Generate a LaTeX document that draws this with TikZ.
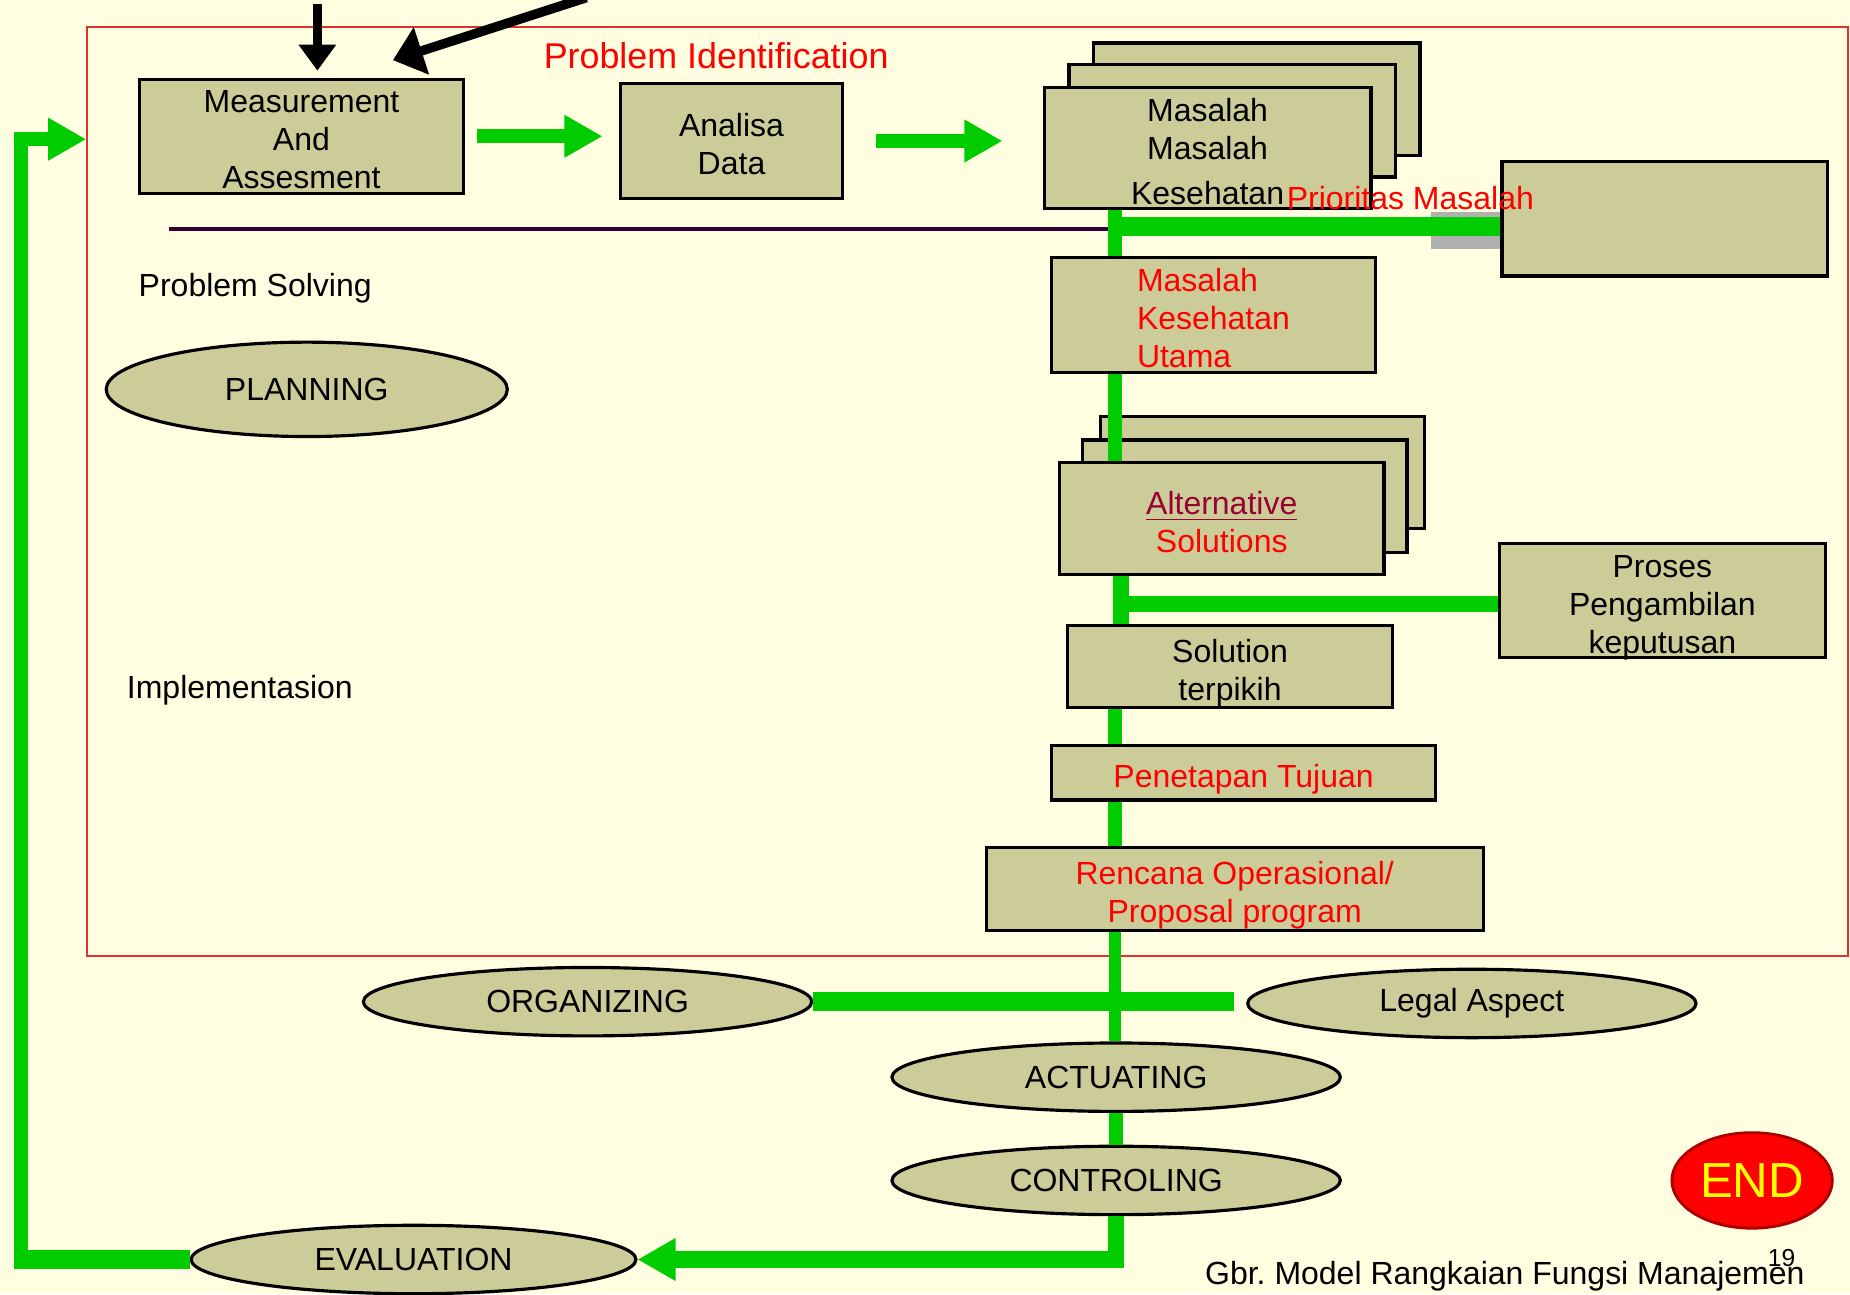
\documentclass[tikz,border=0pt]{standalone}
\usepackage{fontspec}
\setmainfont{Liberation Sans}
\usetikzlibrary{arrows.meta,positioning,shapes.geometric,calc}
\definecolor{bgCream}   {RGB}{255,254,224}
\definecolor{boxKhaki}  {RGB}{204,204,153}
\definecolor{flowGreen} {RGB}{  0,204,  0}
\definecolor{frameRed}  {RGB}{224, 48, 48}
\definecolor{noteRed}   {RGB}{255,  0,  0}
\definecolor{altMaroon} {RGB}{153,  0, 51}
\definecolor{lineInk}   {RGB}{ 51,  0, 51}
\definecolor{shadeGrey} {RGB}{176,176,176}
\definecolor{endEdge}   {RGB}{170,  0,  0}
\definecolor{endYellow} {RGB}{255,255,  0}
\newcommand\pu{0.0118cm}
% box text sits a little low in its box
\newcommand\boxlines[2][c]{\raisebox{-0.07cm}[\height][\depth]{%
  \begin{tabular}{@{}#1@{}}#2\end{tabular}}}

\begin{document}
\begin{tikzpicture}[
  x=0.0118cm, y=-0.0118cm,
  font=\fontsize{9.1}{10.8}\selectfont,
  box/.style={rectangle,draw=black,line width=0.9pt,fill=boxKhaki,
              align=center,inner sep=0pt},
  oval/.style={ellipse,draw=black,line width=0.9pt,fill=boxKhaki,
               inner sep=0pt,minimum width=380*\pu,minimum height=58*\pu},
  flow/.style={draw=flowGreen,line width=12*\pu},
  flowarrow/.style={flow,-{Triangle[length=0.38cm,width=0.40cm]}},
  inarrow/.style={draw=black,line width=8*\pu,
                  -{Triangle[length=0.26cm,width=0.36cm]}},
  note/.style={text=noteRed},
  frame/.style={rectangle,draw=frameRed,line width=0.6pt,inner sep=0pt}
]
\fill[bgCream] (0,0) rectangle (1568,1097);
\useasboundingbox (0,0) rectangle (1568,1097);

% --- planning frame
\node[frame,minimum width=1492*\pu,minimum height=787*\pu] (frame) at (820,416.5) {};
\coordinate (spine)  at (945,0);
\coordinate (spineB) at (950,0);
\coordinate (solveLine) at (143,194);
\draw[lineInk,line width=4*\pu] (solveLine) -- (solveLine -| spine);
\fill[shadeGrey] (1213,180) rectangle (1273,211);

% --- problem identification row
\node[box,minimum width=275*\pu,minimum height=95*\pu] (meas) at (255.5,115.5)
     {\boxlines{Measurement\\And\\Assesment}};
\node[box,minimum width=188*\pu,minimum height=97*\pu] (analisa) at (620,119.5)
     {\boxlines{Analisa\\Data}};
\node[box,minimum width=277*\pu,minimum height=95*\pu] (masC) at (1065,84) {};
\node[box,minimum width=277*\pu,minimum height=95*\pu] (masB) at (1044.5,102.5) {};
\node[box,minimum width=277*\pu,minimum height=95*\pu] (masA) at (1023.5,125.5)
     {\boxlines{Masalah\\Masalah\\[2pt]Kesehatan}};
\node[box,minimum width=276*\pu,minimum height=97*\pu] (prio) at (1411,185.5) {};
\node[note,anchor=west,inner sep=0pt] (prioLabel) at (1090,168) {Prioritas Masalah};

% --- problem solving column
\node[box,note,minimum width=275*\pu,minimum height=98*\pu] (utama)
     at (1028.5,267) {\boxlines[l]{Masalah\\Kesehatan\\Utama}};
\node[box,minimum width=275*\pu,minimum height=95*\pu] (altC) at (1070,400.5) {};
\node[box,minimum width=275*\pu,minimum height=95*\pu] (altB) at (1055,420.5) {};
\node[box,note,minimum width=275*\pu,minimum height=95*\pu] (altA) at (1035.5,439.5)
     {\boxlines{{\color{altMaroon}\underline{Alternative}}\\Solutions}};
\node[box,minimum width=276*\pu,minimum height=96*\pu] (proses) at (1409,509)
     {\boxlines{Proses\\Pengambilan\\keputusan}};
\node[box,minimum width=275*\pu,minimum height=70*\pu] (solution) at (1042.5,565)
     {\boxlines{Solution\\terpikih}};
\node[box,note,minimum width=326*\pu,minimum height=46*\pu] (penetapan) at (1054,655)
     {\boxlines{Penetapan Tujuan}};
\node[box,note,minimum width=421*\pu,minimum height=71*\pu] (rencana) at (1046.5,753.5)
     {\boxlines{Rencana Operasional/\\Proposal program}};

% --- management functions
\node[oval,minimum width=340*\pu,minimum height=80*\pu] (planning) at (260,330) {PLANNING};
\node[oval] (organizing) at (498,849) {ORGANIZING};
\node[oval] (legal) at (1247.5,850.5) {Legal Aspect};
\node[oval] (actuating) at (946,913) {ACTUATING};
\node[oval] (controling) at (946,1000.5) {CONTROLING};
\node[oval,minimum width=377*\pu] (evaluation) at (350.5,1067.5) {EVALUATION};
\node[ellipse,draw=endEdge,line width=0.8pt,fill=noteRed,text=endYellow,inner sep=0pt,
      minimum width=136*\pu,minimum height=81*\pu,
      font=\fontsize{14}{16}\selectfont] (finish) at (1485,1000.5) {END};

% --- connectors
\draw[flowarrow,shorten <=10*\pu,shorten >=14*\pu] (meas.east) -- (meas.east -| analisa.west);
\draw[flowarrow,shorten <=27*\pu,shorten >=34*\pu] (analisa.east) -- (analisa.east -| masA.west);
\coordinate (prioIn) at ([yshift=-6.5*\pu]prio.west);
\coordinate (prosesIn) at ([yshift=-3*\pu]proses.west);
\draw[flow] (spine |- masA.south) -- (spine |- utama.north);
\draw[flow,line width=16*\pu] (spine |- prioIn) -- (prioIn);
\draw[flow] (spine |- utama.south) -- (spine |- altA.north);
\draw[flow,line width=14*\pu] (spineB |- altA.south) -- (spineB |- solution.north);
\draw[flow,line width=14*\pu] (spineB |- prosesIn) -- (prosesIn);
\draw[flow] (spine |- solution.south) -- (spine |- penetapan.north);
\draw[flow] (spine |- penetapan.south) -- (spine |- rencana.north);
\draw[flow,line width=10*\pu] (spine |- rencana.south) -- (spine |- actuating.north);
\draw[flow,line width=16*\pu,shorten >=10*\pu] (organizing.east) -- (organizing.east -| legal.west);
\draw[flow] (actuating.south) -- (controling.north);
\draw[flowarrow,line width=14*\pu] (controling.south) |- (evaluation.east);
\coordinate (loopTop) at (18,118);
\draw[flow,line width=16*\pu] (evaluation.west) -- (evaluation.west -| loopTop);
\draw[flowarrow] ([yshift=-8*\pu]evaluation.west -| loopTop) -- (loopTop) -- (loopTop -| frame.west);

\coordinate (srcA) at (269,3);
\draw[inarrow,shorten >=6*\pu] (srcA) -- (srcA |- meas.north);
\coordinate (srcB) at (497,-2);
\coordinate (srcBend) at (333,51);
\draw[inarrow,-{Triangle[length=0.30cm,width=0.48cm]}] (srcB) -- (srcBend);

% --- labels
\node[note,font=\fontsize{10.2}{12}\selectfont] (probId) at (607,47) {Problem Identification};
\node[anchor=west,inner sep=0pt] (probSolve) at (117,244) {Problem Solving};
\node[anchor=west,inner sep=0pt] (implement) at (107,585) {Implementasion};
\node[font=\fontsize{7}{8}\selectfont] (pageNo) at (1510,1066) {19};
\node[anchor=east,inner sep=0pt] (caption) at (1530,1082) {Gbr.\ Model Rangkaian Fungsi Manajemen};
\end{tikzpicture}
\end{document}
